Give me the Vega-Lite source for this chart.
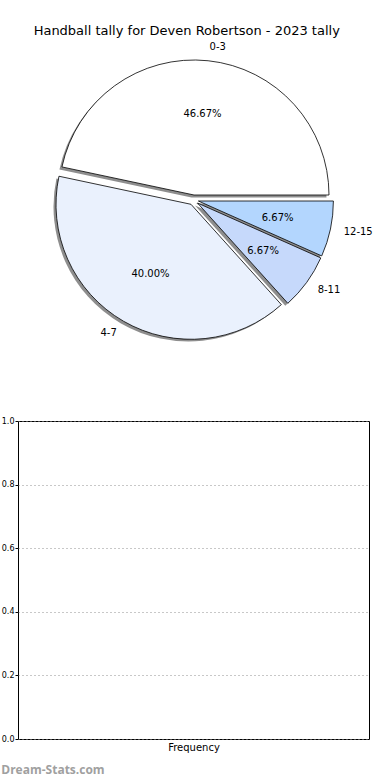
{
  "$schema": "https://vega.github.io/schema/vega-lite/v6.json",
  "padding": {"left": 0, "top": 25, "right": 0, "bottom": 0},
  "spacing": 57,
  "config": {"font": "DejaVu Sans", "view": {"stroke": null}},
  "title": {"text": "Handball tally for Deven Robertson - 2023 tally", "fontSize": 13, "fontWeight": "normal", "color": "black", "anchor": "middle", "offset": 3},
  "datasets": {
    "tally": [
      {"label": "12-15", "count": 1, "order": 1, "pct": "6.67%"},
      {"label": "8-11", "count": 1, "order": 2, "pct": "6.67%"},
      {"label": "4-7", "count": 6, "order": 3, "pct": "40.00%"},
      {"label": "0-3", "count": 7, "order": 4, "pct": "46.67%"}
    ]
  },
  "vconcat": [
    {
      "width": 351,
      "height": 318,
      "data": {"name": "tally"},
      "encoding": {
        "theta": {"field": "count", "type": "quantitative", "stack": true, "scale": {"range": [1.5708, 7.854]}},
        "order": {"field": "order", "type": "quantitative"}
      },
      "layer": [
        {"mark": {"type": "arc", "outerRadius": 135, "fill": "#8e8e8e", "xOffset": -2, "yOffset": -2.5},
         "encoding": {"opacity": {"condition": {"test": "datum.label === '0-3'", "value": 1}, "value": 0}}},
        {"mark": {"type": "arc", "outerRadius": 135, "fill": "#8e8e8e", "xOffset": -5, "yOffset": 6.5},
         "encoding": {"opacity": {"condition": {"test": "datum.label === '4-7'", "value": 1}, "value": 0}}},
        {"mark": {"type": "arc", "outerRadius": 135, "fill": "#8e8e8e", "xOffset": 1.5, "yOffset": 5.5},
         "encoding": {"opacity": {"condition": {"test": "datum.label === '8-11'", "value": 1}, "value": 0}}},
        {"mark": {"type": "arc", "outerRadius": 135, "fill": "#8e8e8e", "xOffset": 2.4, "yOffset": 3.6},
         "encoding": {"opacity": {"condition": {"test": "datum.label === '12-15'", "value": 1}, "value": 0}}},

        {"mark": {"type": "arc", "outerRadius": 135, "stroke": "black", "strokeWidth": 0.8, "xOffset": 0.5, "yOffset": -5},
         "encoding": {"color": {"field": "label", "type": "nominal", "scale": {"domain": ["0-3", "4-7", "8-11", "12-15"], "range": ["#ffffff", "#eaf1fd", "#c6d9fb", "#b3d6fe"]}, "legend": null},
                      "opacity": {"condition": {"test": "datum.label === '0-3'", "value": 1}, "value": 0}}},
        {"mark": {"type": "arc", "outerRadius": 135, "stroke": "black", "strokeWidth": 0.8, "xOffset": -2.5, "yOffset": 4.3},
         "encoding": {"color": {"field": "label", "type": "nominal", "scale": {"domain": ["0-3", "4-7", "8-11", "12-15"], "range": ["#ffffff", "#eaf1fd", "#c6d9fb", "#b3d6fe"]}, "legend": null},
                      "opacity": {"condition": {"test": "datum.label === '4-7'", "value": 1}, "value": 0}}},
        {"mark": {"type": "arc", "outerRadius": 135, "stroke": "black", "strokeWidth": 0.8, "xOffset": 4, "yOffset": 3},
         "encoding": {"color": {"field": "label", "type": "nominal", "scale": {"domain": ["0-3", "4-7", "8-11", "12-15"], "range": ["#ffffff", "#eaf1fd", "#c6d9fb", "#b3d6fe"]}, "legend": null},
                      "opacity": {"condition": {"test": "datum.label === '8-11'", "value": 1}, "value": 0}}},
        {"mark": {"type": "arc", "outerRadius": 135, "stroke": "black", "strokeWidth": 0.8, "xOffset": 4.9, "yOffset": 1},
         "encoding": {"color": {"field": "label", "type": "nominal", "scale": {"domain": ["0-3", "4-7", "8-11", "12-15"], "range": ["#ffffff", "#eaf1fd", "#c6d9fb", "#b3d6fe"]}, "legend": null},
                      "opacity": {"condition": {"test": "datum.label === '12-15'", "value": 1}, "value": 0}}},

        {"mark": {"type": "text", "radius": 81, "fontSize": 10, "color": "black", "align": "center", "baseline": "middle", "xOffset": 0.5, "yOffset": -5},
         "encoding": {"text": {"field": "pct"}, "opacity": {"condition": {"test": "datum.label === '0-3'", "value": 1}, "value": 0}}},
        {"mark": {"type": "text", "radius": 81, "fontSize": 10, "color": "black", "align": "center", "baseline": "middle", "xOffset": -2.5, "yOffset": 4.3},
         "encoding": {"text": {"field": "pct"}, "opacity": {"condition": {"test": "datum.label === '4-7'", "value": 1}, "value": 0}}},
        {"mark": {"type": "text", "radius": 81, "fontSize": 10, "color": "black", "align": "center", "baseline": "middle", "xOffset": 4, "yOffset": 3},
         "encoding": {"text": {"field": "pct"}, "opacity": {"condition": {"test": "datum.label === '8-11'", "value": 1}, "value": 0}}},
        {"mark": {"type": "text", "radius": 81, "fontSize": 10, "color": "black", "align": "center", "baseline": "middle", "xOffset": 4.9, "yOffset": 1},
         "encoding": {"text": {"field": "pct"}, "opacity": {"condition": {"test": "datum.label === '12-15'", "value": 1}, "value": 0}}},

        {"mark": {"type": "text", "radius": 148.5, "fontSize": 10, "color": "black", "align": "left", "baseline": "middle", "xOffset": 0.5, "yOffset": -5},
         "encoding": {"text": {"field": "label"}, "opacity": {"condition": {"test": "datum.label === '0-3'", "value": 1}, "value": 0}}},
        {"mark": {"type": "text", "radius": 148.5, "fontSize": 10, "color": "black", "align": "right", "baseline": "middle", "xOffset": -2.5, "yOffset": 4.3},
         "encoding": {"text": {"field": "label"}, "opacity": {"condition": {"test": "datum.label === '4-7'", "value": 1}, "value": 0}}},
        {"mark": {"type": "text", "radius": 148.5, "fontSize": 10, "color": "black", "align": "left", "baseline": "middle", "xOffset": 4, "yOffset": 3},
         "encoding": {"text": {"field": "label"}, "opacity": {"condition": {"test": "datum.label === '8-11'", "value": 1}, "value": 0}}},
        {"mark": {"type": "text", "radius": 148.5, "fontSize": 10, "color": "black", "align": "left", "baseline": "middle", "xOffset": 4.9, "yOffset": 1},
         "encoding": {"text": {"field": "label"}, "opacity": {"condition": {"test": "datum.label === '12-15'", "value": 1}, "value": 0}}}
      ]
    },
    {
      "width": 351,
      "height": 318,
      "view": {"stroke": "black", "strokeWidth": 1},
      "data": {"values": []},
      "mark": {"type": "point"},
      "encoding": {
        "x": {"field": "x", "type": "quantitative", "scale": {"domain": [0, 1]},
              "axis": {"title": "Frequency", "labels": false, "ticks": false, "grid": false, "domain": false, "titleFontSize": 10, "titleFontWeight": "normal", "titleColor": "black", "titlePadding": 3}},
        "y": {"field": "y", "type": "quantitative", "scale": {"domain": [0, 1]},
              "axis": {"values": [0, 0.2, 0.4, 0.6, 0.8, 1], "format": ".1f", "labelFontSize": 8, "labelColor": "black", "tickSize": 3, "tickColor": "black", "labelPadding": 1, "grid": true, "gridDash": [1, 3], "gridColor": "#909090", "domain": false, "title": null}}
      },
      "title": {"text": "Dream-Stats.com", "orient": "bottom", "anchor": "start", "frame": "bounds", "font": "Open Sans", "fontSize": 12, "fontWeight": "bold", "color": "#a0a0a0", "offset": 13}
    }
  ]
}
